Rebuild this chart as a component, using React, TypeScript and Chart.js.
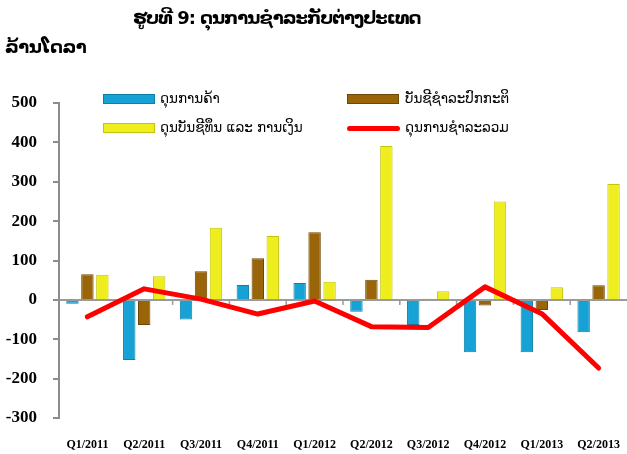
import React, { useEffect, useRef } from "react";
import { Chart, registerables } from "chart.js";

Chart.register(...registerables);

const categories = ["Q1/2011", "Q2/2011", "Q3/2011", "Q4/2011", "Q1/2012", "Q2/2012", "Q3/2012", "Q4/2012", "Q1/2013", "Q2/2013"];
const tradeBalance = [-10, -153, -50, 38, 43, -30, -64, -133, -133, -82];
const currentAccount = [65, -64, 73, 106, 172, 51, 3, -14, -26, 37];
const capitalFinancial = [64, 60, 183, 162, 46, 391, 22, 250, 32, 294];
const overallBalance = [-43, 28, 2, -36, -3, -68, -70, 33, -35, -173];

const seriesNames = ["ດຸນການຄ້າ", "ບັນຊີຊຳລະປົກກະຕິ", "ດຸນບັນຊີທຶນ ແລະ ການເງິນ", "ດຸນການຊຳລະລວມ"];
const titleText = "ຮູບທີ 9: ດຸນການຊຳລະກັບຕ່າງປະເທດ";
const unitText = "ລ້ານໂດລາ";

const BLUE = "#17A2D6";
const BLUE_B = "#0E7FAB";
const BROWN = "#9A6508";
const BROWN_B = "#6C4705";
const YELLOW = "#EEEE1E";
const YELLOW_B = "#C4C40C";
const RED = "#FF0000";

const LAO = "'DejaVu Sans', 'Noto Sans', sans-serif";

const zeroLinePlugin = {
  id: "zeroLine",
  beforeDatasetsDraw(chart: any) {
    const { ctx, chartArea, scales } = chart;
    const y0 = scales.y.getPixelForValue(0);
    const xs = scales.x;
    ctx.save();
    ctx.strokeStyle = "#9A9A9A";
    ctx.lineWidth = 2;
    ctx.beginPath();
    ctx.moveTo(chartArea.left, y0);
    ctx.lineTo(chartArea.right, y0);
    ctx.stroke();
    ctx.lineWidth = 1.5;
    const n = categories.length;
    for (let i = 1; i < n; i++) {
      const xb = (xs.getPixelForValue(i - 1) + xs.getPixelForValue(i)) / 2;
      ctx.beginPath();
      ctx.moveTo(xb, y0);
      ctx.lineTo(xb, y0 + 5);
      ctx.stroke();
    }
    ctx.restore();
  },
};

export default function App() {
  const ref = useRef<HTMLCanvasElement | null>(null);

  useEffect(() => {
    if (!ref.current) return;
    const chart = new Chart(ref.current, {
      type: "bar",
      data: {
        labels: categories,
        datasets: [
          { type: "bar", label: seriesNames[0], data: tradeBalance, backgroundColor: BLUE, borderColor: BLUE_B, borderWidth: 1, order: 1 },
          { type: "bar", label: seriesNames[1], data: currentAccount, backgroundColor: BROWN, borderColor: BROWN_B, borderWidth: 1, order: 1 },
          { type: "bar", label: seriesNames[2], data: capitalFinancial, backgroundColor: YELLOW, borderColor: YELLOW_B, borderWidth: 1, order: 1 },
          {
            type: "line",
            label: seriesNames[3],
            data: overallBalance,
            borderColor: RED,
            backgroundColor: RED,
            borderWidth: 5,
            pointRadius: 0,
            tension: 0,
            borderCapStyle: "round",
            borderJoinStyle: "round",
            order: 0,
          } as any,
        ],
      },
      options: {
        animation: false,
        responsive: false,
        maintainAspectRatio: false,
        layout: { padding: { top: 103, left: 0, right: 0, bottom: 0 } },
        datasets: { bar: { categoryPercentage: 0.79, barPercentage: 0.83 } } as any,
        plugins: {
          legend: { display: false },
          title: { display: false },
          tooltip: { enabled: false },
        },
        scales: {
          x: {
            grid: { display: false, drawTicks: false },
            border: { display: false },
            ticks: {
              padding: 20,
              color: "#000",
              maxRotation: 0,
              autoSkip: false,
              font: { family: "'Liberation Serif', 'Times New Roman', serif", size: 12, weight: "bold" },
            },
            afterFit(scale: any) {
              scale.height = 36;
              scale.paddingLeft = 0;
              scale.paddingRight = 0;
            },
          },
          y: {
            min: -300,
            max: 500,
            ticks: {
              stepSize: 100,
              padding: 16,
              color: "#000",
              font: { family: "'Liberation Serif', 'Times New Roman', serif", size: 17, weight: "bold" },
            },
            grid: { drawOnChartArea: false, drawTicks: true, tickLength: 6, color: "#8C8C8C", lineWidth: 2 },
            border: { display: true, color: "#8C8C8C", width: 2 },
            afterFit(scale: any) {
              scale.width = 59;
              scale.paddingTop = 0;
              scale.paddingBottom = 0;
            },
          },
        },
      },
      plugins: [zeroLinePlugin],
    });
    return () => chart.destroy();
  }, []);

  const legendText: React.CSSProperties = {
    position: "absolute",
    fontFamily: LAO,
    fontSize: 13.5,
    color: "#000",
    whiteSpace: "nowrap",
    lineHeight: "18px",
  };
  const swatch = (x: number, y: number, bg: string, border: string): React.CSSProperties => ({
    position: "absolute",
    left: x,
    top: y,
    width: 50,
    height: 8,
    background: bg,
    border: `1px solid ${border}`,
  });

  return (
    <div style={{ position: "fixed", left: 0, top: 0, width: 627, height: 454, background: "#fff", overflow: "hidden" }}>
      <canvas ref={ref} width={627} height={454} style={{ position: "absolute", left: 0, top: 0, width: 627, height: 454 }} />
      <div style={{ position: "absolute", left: 133, top: 5, fontFamily: LAO, fontWeight: "bold", fontSize: 18, letterSpacing: -1, lineHeight: "26px", color: "#000", whiteSpace: "nowrap" }}>
        {titleText}
      </div>
      <div style={{ position: "absolute", left: 5, top: 34, fontFamily: LAO, fontWeight: "bold", fontSize: 18, letterSpacing: -0.5, lineHeight: "26px", color: "#000", whiteSpace: "nowrap" }}>
        {unitText}
      </div>
      <div style={swatch(103, 94, BLUE, BLUE_B)} />
      <div style={{ ...legendText, left: 160, top: 89 }}>{seriesNames[0]}</div>
      <div style={swatch(347, 94, BROWN, BROWN_B)} />
      <div style={{ ...legendText, left: 405, top: 89 }}>{seriesNames[1]}</div>
      <div style={swatch(103, 123, YELLOW, YELLOW_B)} />
      <div style={{ ...legendText, left: 160, top: 118 }}>{seriesNames[2]}</div>
      <div style={{ position: "absolute", left: 347, top: 126, width: 53, height: 5, borderRadius: 3, background: RED }} />
      <div style={{ ...legendText, left: 405, top: 118 }}>{seriesNames[3]}</div>
    </div>
  );
}
